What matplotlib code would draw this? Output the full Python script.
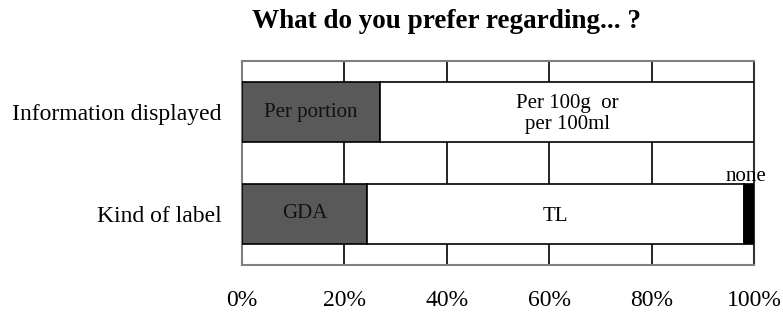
import matplotlib
matplotlib.use("Agg")
import matplotlib.pyplot as plt
import numpy as np

plt.rcParams['font.family'] = ['Liberation Serif', 'DejaVu Serif']

categories = ["Information displayed", "Kind of label"]
first_vals = [27, 24.5]
second_vals = [73, 73.5]
none_vals = [0, 2]
first_labels = ["Per portion", "GDA"]
second_labels = ["Per 100g  or\nper 100ml", "TL"]
xticks = [0, 20, 40, 60, 80, 100]
xtick_labels = ["0%", "20%", "40%", "60%", "80%", "100%"]

fig = plt.figure(figsize=(7.83, 3.13), dpi=100)
ax = fig.add_axes([242/783, 1-265/313, 512/783, 204/313])

y = np.arange(len(categories))
h = 0.58
ax.barh(y, first_vals, height=h, color="#595959", edgecolor="black", linewidth=1.2, zorder=3)
ax.barh(y, second_vals, left=first_vals, height=h, color="white", edgecolor="black", linewidth=1.2, zorder=3)
lefts3 = [a + b for a, b in zip(first_vals, second_vals)]
for yi, l, v in zip(y, lefts3, none_vals):
    if v > 0:
        ax.barh(yi, v, left=l, height=h, color="black", edgecolor="black", linewidth=1.2, zorder=3)
        ax.text(l + v / 2 - 0.6, yi - h / 2 + 0.02, "none", ha="center", va="bottom", fontsize=15, zorder=4)

for yi, a, b, la, lb in zip(y, first_vals, second_vals, first_labels, second_labels):
    ax.text(a / 2, yi, la, ha="center", va="center", fontsize=15, color="#111111", zorder=4)
    ax.text(a + b / 2, yi + 0.02, lb, ha="center", va="center", fontsize=15, zorder=4, linespacing=1.12)

ax.set_xlim(0, 100)
ax.set_ylim(1.5, -0.5)
ax.set_yticks(y)
ax.set_yticklabels(categories, fontsize=17)
ax.set_xticks(xticks)
ax.set_xticklabels(xtick_labels, fontsize=17)
ax.tick_params(axis='both', length=0)
ax.tick_params(axis='x', pad=18)
ax.tick_params(axis='y', pad=14.5)
for x in xticks[1:-1]:
    ax.axvline(x, color="black", linewidth=1.2, zorder=1)
for s in ax.spines.values():
    s.set_color("#808080")
    s.set_linewidth(1.5)
ax.spines['right'].set_color("#333333")

fig.text(446/783, 1-21/313, "What do you prefer regarding... ?", ha="center", va="center",
         fontsize=19.5, fontweight="bold")

fig.savefig("out.png", dpi=100)
